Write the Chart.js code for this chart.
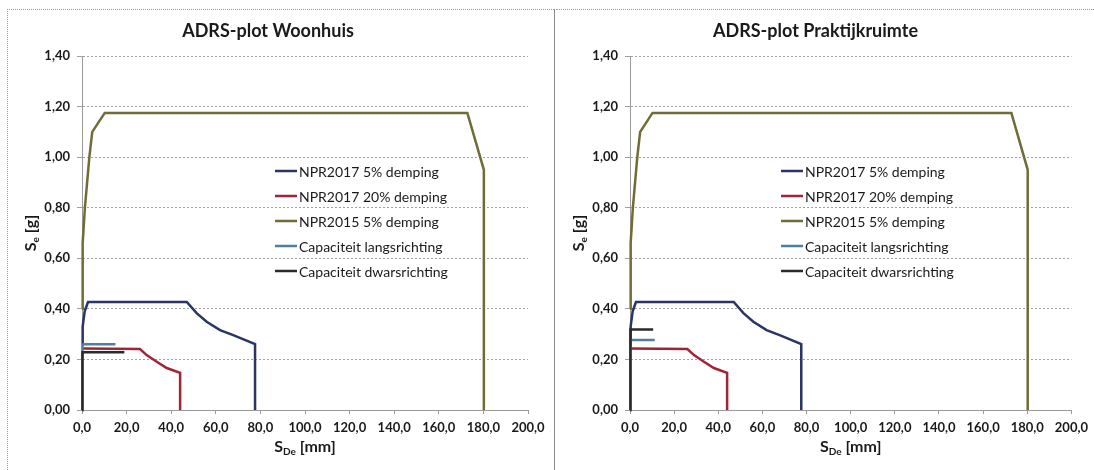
<!DOCTYPE html>
<html><head><meta charset="utf-8">
<script src="https://cdn.jsdelivr.net/npm/chart.js@4.4.1/dist/chart.umd.min.js"></script>
<style>
html,body{margin:0;padding:0;background:#fff;}
#wrap{position:relative;width:1094px;height:470px;overflow:hidden;background:#fff;}
.cv{position:absolute;top:10px;}
#c1{left:8px;}
#c2{left:556px;}
.bl{position:absolute;}
</style></head>
<body>
<div id="wrap">
  <div class="bl" style="left:7px;top:9px;width:547px;height:0;border-top:1px dotted #9a9a9a"></div>
  <div class="bl" style="left:556px;top:9px;width:538px;height:0;border-top:1px dotted #9a9a9a"></div>
  <div class="bl" style="left:7px;top:9px;width:0;height:461px;border-left:1px dotted #9a9a9a"></div>
  <div class="bl" style="left:554px;top:9px;width:0;height:461px;border-left:1px solid #8a8a8a"></div>
  <canvas id="c1" class="cv" width="546" height="460"></canvas>
  <canvas id="c2" class="cv" width="538" height="460"></canvas>
</div>
<script>
// ---- texts ----
const titles = ['ADRS-plot Woonhuis', 'ADRS-plot Praktijkruimte'];
const seriesNames = ['NPR2017 5% demping', 'NPR2017 20% demping', 'NPR2015 5% demping', 'Capaciteit langsrichting', 'Capaciteit dwarsrichting'];
const seriesColors = ['#2a3465', '#9e2436', '#6f6c36', '#4f7fa0', '#2b2b2b'];
const yTitleParts = [['S', 0], ['e', 1], [' [g]', 0]];
const xTitleParts = [['S', 0], ['De', 1], [' [mm]', 0]];
const xTicks = [0, 20, 40, 60, 80, 100, 120, 140, 160, 180, 200];
const yTicks = [0, 0.2, 0.4, 0.6, 0.8, 1.0, 1.2, 1.4];

// ---- spectra (same in both charts) ----
const npr2017_5_x = [0, 0.3, 1.2, 2.7, 47, 51.4, 55.9, 61.9, 67.8, 77.6, 77.6];
const npr2017_5_y = [0.26, 0.33, 0.39, 0.427, 0.427, 0.383, 0.349, 0.316, 0.296, 0.261, 0];
const npr2017_20_x = [0, 26, 29, 33.5, 38, 44, 44];
const npr2017_20_y = [0.243, 0.241, 0.217, 0.191, 0.166, 0.147, 0];
const npr2015_x = [0, 0.3, 1.3, 3.3, 4.6, 10.2, 172.8, 180.2, 180.2];
const npr2015_y = [0.40, 0.66, 0.80, 1.00, 1.10, 1.175, 1.175, 0.95, 0];

// ---- capacities Woonhuis ----
const woon_langs_x = [0, 0.2, 15];
const woon_langs_y = [0, 0.26, 0.26];
const woon_dwars_x = [0, 0.2, 19];
const woon_dwars_y = [0, 0.228, 0.228];

// ---- capacities Praktijkruimte ----
const prak_langs_x = [0, 0.2, 11.2];
const prak_langs_y = [0, 0.277, 0.277];
const prak_dwars_x = [0, 0.2, 10.5];
const prak_dwars_y = [0, 0.318, 0.318];

const FONT = 'Lato, "Open Sans", sans-serif';

function pts(xs, ys) { return xs.map((x, i) => ({x: x, y: ys[i]})); }

function drawParts(ctx, parts, cx, cy) {
  const big = 'bold 16px ' + FONT, small = 'bold 10px ' + FONT;
  let w = 0;
  parts.forEach(p => { ctx.font = p[1] ? small : big; w += ctx.measureText(p[0]).width; });
  let x = cx - w / 2;
  ctx.textBaseline = 'middle';
  ctx.textAlign = 'left';
  parts.forEach(p => {
    ctx.font = p[1] ? small : big;
    ctx.fillText(p[0], x, cy + (p[1] ? 5 : 0));
    x += ctx.measureText(p[0]).width;
  });
}

const extras = {
  id: 'extras',
  afterDraw(chart, args, opts) {
    const ctx = chart.ctx, ca = chart.chartArea;
    ctx.save();
    ctx.fillStyle = '#1a1a1a';
    // axis titles
    drawParts(ctx, xTitleParts, (ca.left + ca.right) / 2, opts.xTitleY);
    ctx.save();
    ctx.translate(opts.yTitleX, (ca.top + ca.bottom) / 2);
    ctx.rotate(-Math.PI / 2);
    drawParts(ctx, yTitleParts, 0, 0);
    ctx.restore();
    // legend
    ctx.font = '14px ' + FONT;
    ctx.textBaseline = 'middle';
    ctx.textAlign = 'left';
    chart.data.datasets.forEach((ds, i) => {
      const y = ca.top + opts.legY + i * 25;
      const x0 = ca.left + opts.legX;
      ctx.strokeStyle = ds.borderColor;
      ctx.lineWidth = 2.5;
      ctx.beginPath(); ctx.moveTo(x0, y); ctx.lineTo(x0 + 22, y); ctx.stroke();
      ctx.fillStyle = '#1a1a1a';
      ctx.fillText(ds.label, x0 + 24, y + 1);
    });
    ctx.restore();
  }
};

function makeChart(id, title, langsX, langsY, dwarsX, dwarsY, rightPad, legX) {
  const series = [
    pts(npr2017_5_x, npr2017_5_y),
    pts(npr2017_20_x, npr2017_20_y),
    pts(npr2015_x, npr2015_y),
    pts(langsX, langsY),
    pts(dwarsX, dwarsY)
  ];
  const orders = [2, 3, 4, 1, 0];
  return new Chart(document.getElementById(id), {
    type: 'scatter',
    data: {
      datasets: series.map((d, i) => ({
        label: seriesNames[i], data: d, showLine: true,
        borderColor: seriesColors[i], backgroundColor: seriesColors[i],
        borderWidth: 2.5, pointRadius: 0, pointHoverRadius: 0, tension: 0,
        clip: false, order: orders[i]
      }))
    },
    options: {
      responsive: false, animation: false,
      layout: {padding: {left: 0, right: rightPad, top: 0, bottom: 0}},
      plugins: {
        legend: {display: false}, tooltip: {enabled: false},
        title: {display: true, text: title, color: '#1a1a1a',
          font: {family: FONT, size: 18, weight: 'bold'}, padding: {top: 10, bottom: 14.4}},
        extras: {xTitleY: 437, yTitleX: 23, legX: legX, legY: 115}
      },
      scales: {
        x: {
          type: 'linear', min: 0, max: 200,
          afterFit: s => { s.height = 60; },
          afterBuildTicks: s => { s.ticks = xTicks.map(v => ({value: v})); },
          ticks: {color: '#1a1a1a', font: {family: FONT, size: 13, weight: 'bold'}, padding: 6,
            maxRotation: 0, callback: v => v.toFixed(1).replace('.', ',')},
          grid: {display: true, drawOnChartArea: false, color: '#9a9a9a', tickLength: 4},
          border: {display: true, color: '#9a9a9a', dash: [2, 2]}
        },
        y: {
          type: 'linear', min: 0, max: 1.4,
          afterFit: s => { s.width = 74; },
          afterBuildTicks: s => { s.ticks = yTicks.map(v => ({value: v})); },
          ticks: {color: '#1a1a1a', font: {family: FONT, size: 13, weight: 'bold'}, padding: 7,
            callback: v => v.toFixed(2).replace('.', ',')},
          grid: {color: '#a0a0a0', tickLength: 5, borderDash: [2, 2], tickBorderDash: [0, 0]},
          border: {display: true, color: '#9a9a9a', dash: [2, 2]}
        }
      }
    },
    plugins: [extras]
  });
}

Chart.defaults.font.family = FONT;
makeChart('c1', titles[0], woon_langs_x, woon_langs_y, woon_dwars_x, woon_dwars_y, 26, 193);
makeChart('c2', titles[1], prak_langs_x, prak_langs_y, prak_dwars_x, prak_dwars_y, 19, 151);
</script>
</body></html>
